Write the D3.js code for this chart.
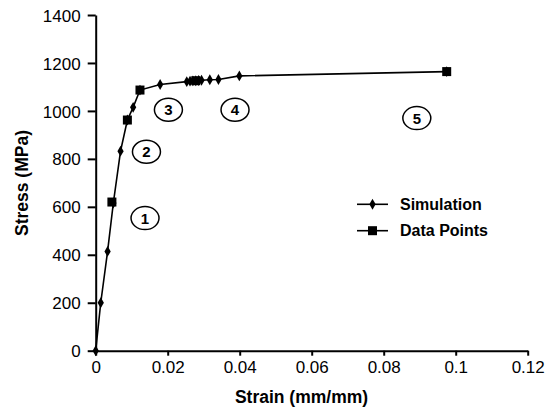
<!DOCTYPE html>
<html><head><meta charset="utf-8">
<script src="https://cdn.jsdelivr.net/npm/d3@7"></script>
<style>
html,body{margin:0;padding:0;background:#fff;}
svg text{font-family:"Liberation Sans",Arial,sans-serif;fill:#000;}
</style></head>
<body><svg id="c" width="554" height="413"></svg>
<script>
const simStrain = [0, 0.0014, 0.0033, 0.0049, 0.0069, 0.0088, 0.0104, 0.0123, 0.0179, 0.0253, 0.0262, 0.0270, 0.0278, 0.0286, 0.0294, 0.0317, 0.0341, 0.0399, 0.0975];
const simStress = [0, 200, 414, 616, 832, 962, 1015, 1087, 1110, 1122, 1124, 1125, 1126, 1127, 1128, 1130, 1131, 1146, 1164];
const dataStrain = [0.0045, 0.0088, 0.0123, 0.0278, 0.0975];
const dataStress = [620, 962, 1087, 1126, 1164];
const xTicks = [0, 0.02, 0.04, 0.06, 0.08, 0.1, 0.12];
const yTicks = [0, 200, 400, 600, 800, 1000, 1200, 1400];
const regionLabels = ["1", "2", "3", "4", "5"];
const regionStrain = [0.0137, 0.0141, 0.0202, 0.0387, 0.0892];
const regionStress = [553, 830, 1005, 1005, 970];
const legendNames = ["Simulation", "Data Points"];

const svg = d3.select("#c");
const x = d3.scaleLinear().domain([0, 0.12]).range([95.7, 527.7]);
const y = d3.scaleLinear().domain([0, 1400]).range([350.7, 15]);

const gx = svg.append("g").attr("transform", `translate(0,${y(0)})`)
  .call(d3.axisBottom(x).tickValues(xTicks).tickSize(5).tickSizeOuter(0).tickFormat(d => String(+d.toFixed(2))));
const gy = svg.append("g").attr("transform", `translate(${x(0)},0)`)
  .call(d3.axisLeft(y).tickValues(yTicks).tickSize(8).tickSizeOuter(0).tickFormat(d3.format("d")));
[gx, gy].forEach(g => {
  g.select(".domain").attr("stroke", "#000").attr("stroke-width", 2);
  g.selectAll(".tick line").attr("stroke", "#000").attr("stroke-width", 2);
  g.selectAll(".tick text").style("font-size", "17px").attr("font-family", null);
});
gx.selectAll(".tick text").attr("dy", null).attr("y", 22);
gy.selectAll(".tick text").attr("x", -15).attr("dy", "0.36em");

svg.append("text").attr("x", 301.5).attr("y", 403)
  .attr("text-anchor", "middle").style("font-size", "17.5px").style("font-weight", "bold")
  .text("Strain (mm/mm)");
svg.append("text").attr("transform", "translate(28,183) rotate(-90)")
  .attr("text-anchor", "middle").style("font-size", "17.5px").style("font-weight", "bold")
  .text("Stress (MPa)");

const sim = simStrain.map((s, i) => [s, simStress[i]]);
const dat = dataStrain.map((s, i) => [s, dataStress[i]]);
const line = d3.line().x(d => x(d[0])).y(d => y(d[1]));

svg.append("path").attr("d", line(sim)).attr("fill", "none").attr("stroke", "#000").attr("stroke-width", 1.6);

const diamond = d3.symbol().type(d3.symbolDiamond).size(34);
svg.selectAll(".dm").data(sim).join("path").attr("class", "dm")
  .attr("transform", d => `translate(${x(d[0])},${y(d[1])})`).attr("d", diamond).attr("fill", "#000");
svg.selectAll(".sq").data(dat).join("rect").attr("class", "sq")
  .attr("x", d => x(d[0]) - 4.5).attr("y", d => y(d[1]) - 4.5).attr("width", 9).attr("height", 9).attr("fill", "#000");

const rg = svg.selectAll(".rg").data(regionLabels).join("g").attr("class", "rg")
  .attr("transform", (d, i) => `translate(${x(regionStrain[i])},${y(regionStress[i])})`);
rg.append("ellipse").attr("rx", 14).attr("ry", 11.5).attr("fill", "none").attr("stroke", "#000").attr("stroke-width", 1.5);
rg.append("text").attr("text-anchor", "middle").attr("dy", "0.36em").style("font-size", "15px").style("font-weight", "bold").text(d => d);

const lg = svg.selectAll(".lg").data(legendNames).join("g").attr("class", "lg")
  .attr("transform", (d, i) => `translate(357,${204.3 + i * 26.4})`);
lg.append("line").attr("x1", 0).attr("x2", 31).attr("stroke", "#000").attr("stroke-width", 1.6);
lg.filter((d, i) => i === 0).append("path").attr("transform", "translate(15.5,0)").attr("d", diamond).attr("fill", "#000");
lg.filter((d, i) => i === 1).append("rect").attr("x", 11).attr("y", -4.5).attr("width", 9).attr("height", 9).attr("fill", "#000");
lg.append("text").attr("x", 43).attr("dy", "0.36em").style("font-size", "16px").style("font-weight", "bold").text(d => d);
</script></body></html>
